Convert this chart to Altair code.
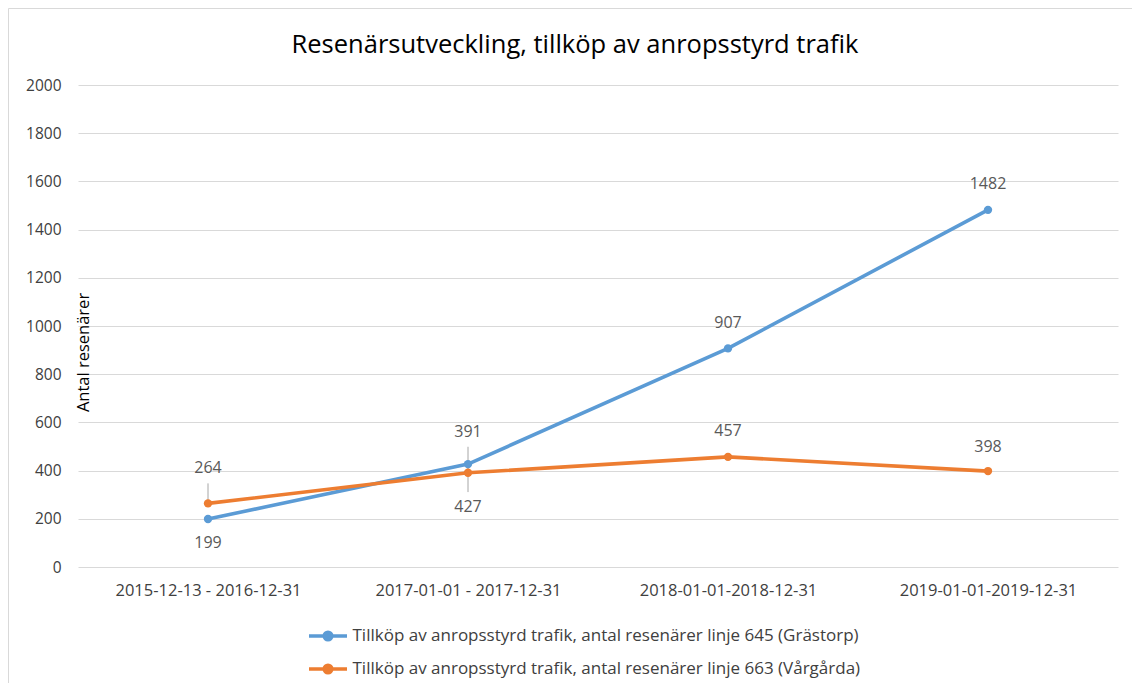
import altair as alt
import pandas as pd

categories = ["2015-12-13 - 2016-12-31", "2017-01-01 - 2017-12-31",
              "2018-01-01-2018-12-31", "2019-01-01-2019-12-31"]
series_names = ["Tillköp av anropsstyrd trafik, antal resenärer linje 645 (Grästorp)",
                "Tillköp av anropsstyrd trafik, antal resenärer linje 663 (Vårgårda)"]
grastorp = [199, 427, 907, 1482]
vargarda = [264, 391, 457, 398]
y_ticks = [0, 200, 400, 600, 800, 1000, 1200, 1400, 1600, 1800, 2000]
title_text = "Resenärsutveckling, tillköp av anropsstyrd trafik"

# label placement (pixels, style only)
label_dy = {0: [24, 43, -25, -26], 1: [-35, -41, -26, -24]}
leader = {0: [False, True, False, False], 1: [True, True, False, False]}

W, H = 1040, 482
ppu = H / 2000.0

rows = []
for si, vals in enumerate([grastorp, vargarda]):
    for ci, v in enumerate(vals):
        dy = label_dy[si][ci]
        sign = 1 if dy > 0 else -1
        lpx = dy - sign * 15
        rows.append(dict(cat=categories[ci], serie=series_names[si], value=v,
                         dy=dy, lead=leader[si][ci], y2=v - lpx / ppu, order=si))
df = pd.DataFrame(rows)

blue = "#5B9BD5"
orange = "#ED7D31"
font = "Open Sans"

x = alt.X("cat:N", sort=categories, title=None,
          scale=alt.Scale(type="point", padding=0.5),
          axis=alt.Axis(labelAngle=0, labelPadding=15, labelFontSize=16.5, labelLimit=0,
                        labelColor="#404040", ticks=False, domain=False, grid=False,
                        labelFont=font))
y = alt.Y("value:Q", scale=alt.Scale(domain=[0, 2000]),
          axis=alt.Axis(values=y_ticks, format="d", title="Antal resenärer", titleFontSize=16.5,
                        titleFontWeight="normal", titleColor="#000000", titleFont=font,
                        titleX=10, titleY=267, titleAngle=-90, titleAlign="center",
                        titleBaseline="alphabetic",
                        labelFontSize=15.5, labelColor="#404040", labelPadding=17,
                        labelFont=font, ticks=False, domain=False,
                        gridColor="#D9D9D9", gridWidth=1))
color = alt.Color("serie:N", sort=series_names,
                  scale=alt.Scale(domain=series_names, range=[blue, orange]),
                  legend=alt.Legend(title=None, orient="none", legendX=238.5, legendY=539.5,
                                    direction="vertical", labelFontSize=17, labelFont=font,
                                    labelColor="#404040", labelLimit=0, rowPadding=10,
                                    symbolType="M-2,0L2,0M-0.4,0a0.4,0.4 0 1,0 0.8,0a0.4,0.4 0 1,0 -0.8,0",
                                    symbolSize=361, symbolStrokeWidth=3.5, labelOffset=13))

base = alt.Chart(df)
one = alt.Chart(pd.DataFrame({"t": [title_text]}))

border = one.mark_rect(fill=None, stroke="#D9D9D9", strokeWidth=1).encode(
    x=alt.value(-69.5), y=alt.value(-76.5), x2=alt.value(1300), y2=alt.value(900))

title = one.mark_text(fontSize=25.5, font=font, color="#000000", align="center",
                      baseline="middle").encode(
    text="t:N", x=alt.value(497), y=alt.value(-40))

lines = base.mark_line(strokeWidth=3.6).encode(x=x, y=y, color=color,
                                               order=alt.Order("order:Q"))
points = base.mark_point(filled=True, size=70, opacity=1).encode(x=x, y=y, color=color)

leaders = base.transform_filter("datum.lead").mark_rule(color="#A6A6A6", strokeWidth=1).encode(
    x=x, y="value:Q", y2="y2:Q")

label_layers = []
for d in sorted(set(df["dy"])):
    label_layers.append(
        base.transform_filter(f"datum.dy == {d}").mark_text(
            fontSize=16, color="#595959", font=font, baseline="middle", dy=d).encode(
            x=x, y="value:Q", text="value:Q"))

chart = alt.layer(border, title, leaders, lines, points, *label_layers).properties(
    width=W, height=H,
    autosize=alt.AutoSizeParams(type="none"),
    padding={"left": 70, "top": 77, "right": 14, "bottom": 116},
).configure(background="white").configure_view(stroke=None)

chart.save("out.html", embed_options={"renderer": "svg", "actions": False})
